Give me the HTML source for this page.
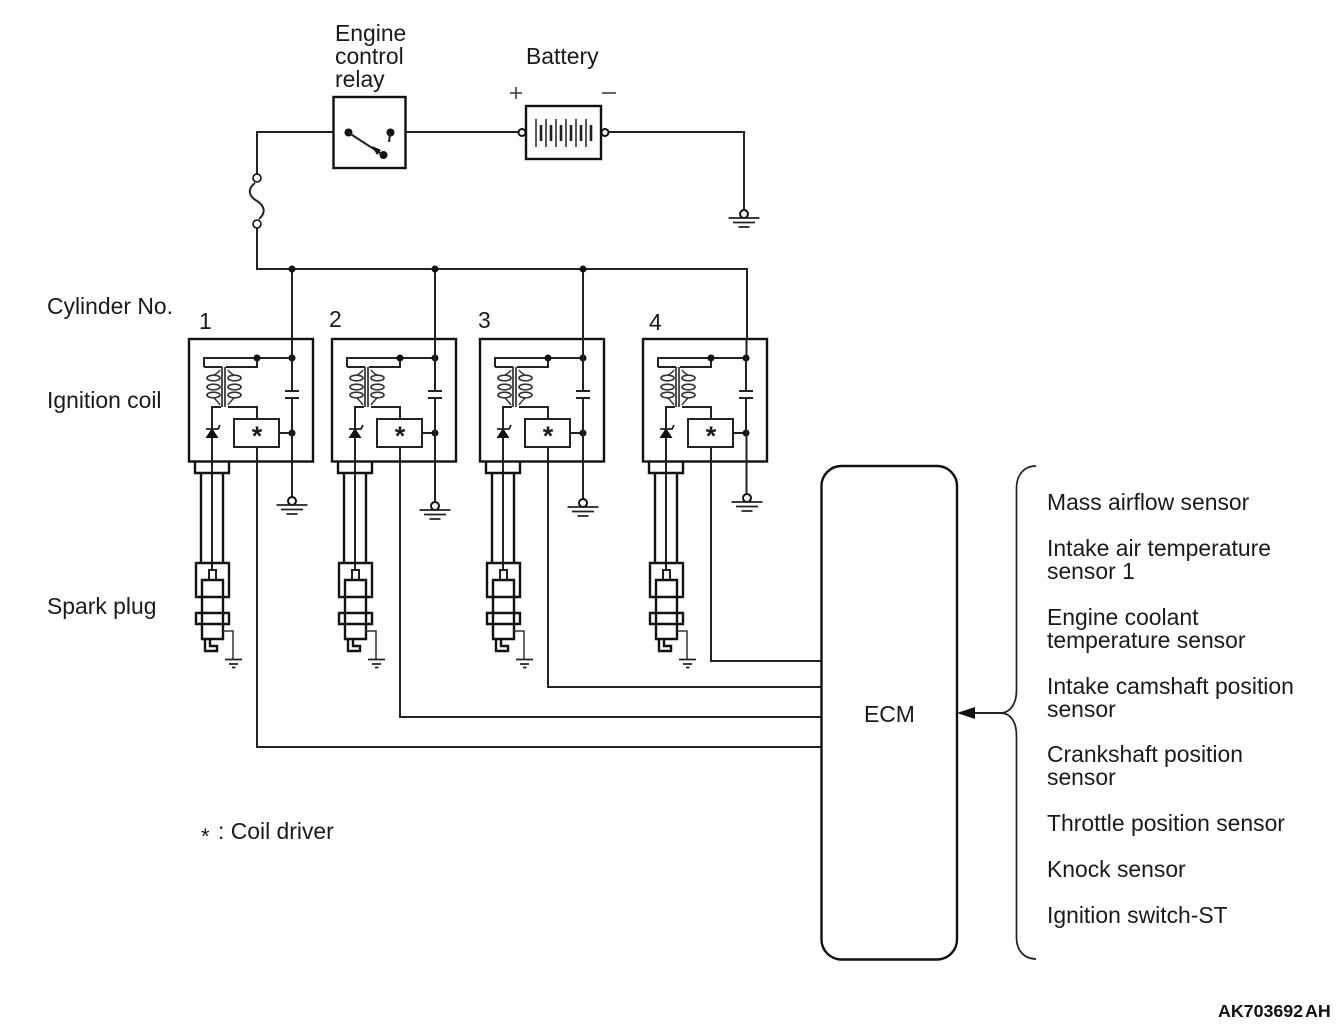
<!DOCTYPE html>
<html>
<head>
<meta charset="utf-8">
<style>
html,body{margin:0;padding:0;background:#fff;width:1336px;height:1024px;overflow:hidden}
svg{display:block;position:absolute;left:0;top:0}
text{font-family:"Liberation Sans",Arial,sans-serif;font-size:22.900px;fill:#1a1a1a}
.w{fill:none;stroke:#222;stroke-width:2}
.t{fill:none;stroke:#111;stroke-width:2.4}
.n{fill:none;stroke:#333;stroke-width:1.5}
.d{fill:#111;stroke:none}
.o{fill:#fff;stroke:#111;stroke-width:2}
</style>
</head>
<body>
<svg width="1336" height="1024" viewBox="0 0 1336 1024" xmlns="http://www.w3.org/2000/svg">
<defs>
<g id="coil">
  <rect class="t" x="189" y="339" width="124" height="122.500"/>
  <path class="w" d="M204 367V358H292"/>
  <path class="w" d="M204 367H222"/>
  <path class="w" d="M257 358V367H226"/>
  <path class="w" d="M222 367V407M225 367V407" style="stroke-width:1.600"/>
  <ellipse class="n" cx="213.500" cy="378" rx="6.500" ry="2.800" style="stroke-width:1.700"/>
  <ellipse class="n" cx="213.500" cy="387" rx="6.500" ry="2.800" style="stroke-width:1.700"/>
  <ellipse class="n" cx="213.500" cy="395" rx="6.500" ry="2.800" style="stroke-width:1.700"/>
  <ellipse class="n" cx="234.500" cy="378" rx="6.500" ry="2.800" style="stroke-width:1.700"/>
  <ellipse class="n" cx="234.500" cy="387" rx="6.500" ry="2.800" style="stroke-width:1.700"/>
  <ellipse class="n" cx="234.500" cy="395" rx="6.500" ry="2.800" style="stroke-width:1.700"/>
  <path class="n" d="M220 370C218 373 216 374 214 375M220 405C218 402 216 400 214 398M228 370C230 373 232 374 234 375M228 405C230 402 232 400 234 398"/>
  <path class="w" d="M228 407H257V419M221 407H212V570"/>
  <path class="d" d="M212 428L218.500 438H205.500Z"/>
  <path class="w" d="M206 429L218 429L220 425" style="stroke-width:1.800"/>
  <rect class="w" x="234" y="419" width="45" height="28"/>
  <text x="257" y="445" text-anchor="middle" style="font-size:27px;font-weight:bold">*</text>
  <path class="w" d="M279 433H292"/>
  <circle class="d" cx="257" cy="358" r="3.500"/>
  <circle class="d" cx="292" cy="358" r="3.500"/>
  <circle class="d" cx="292" cy="433" r="3.500"/>
  <path class="w" d="M285 391H299M285 398H299"/>
  <path class="w" d="M292 358V391M292 398V433"/>
  <path class="t" d="M195 462V473H229V462"/>
  <path class="t" d="M201 473V563M223 473V563"/>
  <path class="t" d="M196 563H229V597H196Z"/>
  <path class="w" d="M209 570H216V580H209Z"/>
  <path class="t" d="M202 597V580H223V597M202 597V613M223 597V613"/>
  <path class="t" d="M196 613H229V624H196ZM202 613V624M223 613V624"/>
  <path class="t" d="M202 624V639H223V624"/>
  <path class="t" d="M205 639V651H217V646H210V639"/>
  <path class="n" d="M223 631H233V659"/>
  <path class="w" d="M225 659.500H242M229 664H238M232 667.500H235.500" style="stroke-width:1.700"/>
</g>
<g id="gnd">
  <circle class="o" cx="0" cy="-4" r="4"/>
  <path class="w" d="M-15.500 0H15.500M-11 4.500H11M-5.500 9H5.500" style="stroke-width:1.800"/>
</g>
</defs>

<use href="#coil"/>
<use href="#coil" x="143"/>
<use href="#coil" x="291"/>
<use href="#coil" x="454"/>

<!-- main supply -->
<path class="w" d="M333 132H257V174M257 228V269H747V339"/>
<path class="w" d="M292 269V358M435 269V358M583 269V358M746.500 339V358"/>
<circle class="d" cx="292" cy="269" r="3.500"/>
<circle class="d" cx="435" cy="269" r="3.500"/>
<circle class="d" cx="583" cy="269" r="3.500"/>

<!-- fuse -->
<circle class="o" cx="257" cy="178" r="4" style="stroke-width:1.600"/>
<circle class="o" cx="257" cy="224" r="4" style="stroke-width:1.600"/>
<path class="w" d="M255 183C246 190 250 197 257 201C265 206 266 213 259 219"/>

<!-- relay -->
<rect class="t" x="333.500" y="97" width="72" height="71"/>
<circle class="d" cx="348.500" cy="132.500" r="4"/>
<circle class="d" cx="390.500" cy="132.500" r="4"/>
<circle class="d" cx="383.500" cy="155" r="4"/>
<path class="w" d="M349 133L383 155M390 134L389 142M405 132H522"/>
<path class="d" d="M372 146L381 150L377 155Z"/>

<!-- battery -->
<rect class="t" x="526" y="106" width="75" height="53"/>
<circle class="o" cx="522" cy="132.500" r="3.500"/>
<circle class="o" cx="605" cy="132.500" r="3.500"/>
<path d="M536 119V147M546 119V147M556 119V147M566 119V147M576 119V147M586 119V147" fill="none" stroke="#222" stroke-width="1.500"/>
<path d="M541 125V141M551 125V141M561 125V141M571 125V141M581 125V141M591 125V141" fill="none" stroke="#222" stroke-width="2.600"/>
<path class="w" d="M609 132H744V214"/>
<use href="#gnd" x="744" y="218"/>
<path d="M510 93H522M516 87V99M602 93H616" fill="none" stroke="#333" stroke-width="1.500"/>

<!-- coil grounds -->
<path class="w" d="M292 433V497M435 433V501M583 433V499M746.500 433V494"/>
<use href="#gnd" x="292" y="505"/>
<use href="#gnd" x="435" y="510"/>
<use href="#gnd" x="583" y="507"/>
<use href="#gnd" x="747" y="502"/>

<!-- driver wires to ECM -->
<path class="w" d="M257 447V747H821M400 447V717H821M548 447V687H821M711 447V661H821"/>

<!-- ECM -->
<rect class="t" x="821.500" y="466" width="135.500" height="493.500" rx="20" ry="20" fill="#fff"/>
<path class="w" d="M1036 466C1024 466 1016.500 475 1016.500 488V690C1016.500 703 1011 713 1000 713C1011 713 1016.500 722 1016.500 736V938C1016.500 950 1024 959 1036 959" style="stroke-width:1.700"/>
<path class="w" d="M975 713H1002"/>
<path class="d" d="M957 713L975 707V719Z"/>

<!-- labels -->
<text x="335" y="41">Engine</text>
<text x="335" y="64">control</text>
<text x="335" y="87">relay</text>
<text x="526" y="64">Battery</text>
<text x="47" y="314">Cylinder No.</text>
<text x="199" y="329">1</text>
<text x="329" y="327">2</text>
<text x="478" y="328">3</text>
<text x="649" y="330">4</text>
<text x="47" y="408">Ignition coil</text>
<text x="47" y="614">Spark plug</text>
<text x="201" y="844" style="font-size:22px">*</text>
<text x="218" y="839">: Coil driver</text>
<text x="864" y="722">ECM</text>
<text x="1047" y="510">Mass airflow sensor</text>
<text x="1047" y="556">Intake air temperature</text>
<text x="1047" y="579">sensor 1</text>
<text x="1047" y="625">Engine coolant</text>
<text x="1047" y="648">temperature sensor</text>
<text x="1047" y="694">Intake camshaft position</text>
<text x="1047" y="717">sensor</text>
<text x="1047" y="762">Crankshaft position</text>
<text x="1047" y="785">sensor</text>
<text x="1047" y="831">Throttle position sensor</text>
<text x="1047" y="877">Knock sensor</text>
<text x="1047" y="923">Ignition switch-ST</text>
<text x="1218" y="1017" style="font-size:17.800px;font-weight:bold;fill:#111">AK703692<tspan dx="2">AH</tspan></text>
</svg>
</body>
</html>
